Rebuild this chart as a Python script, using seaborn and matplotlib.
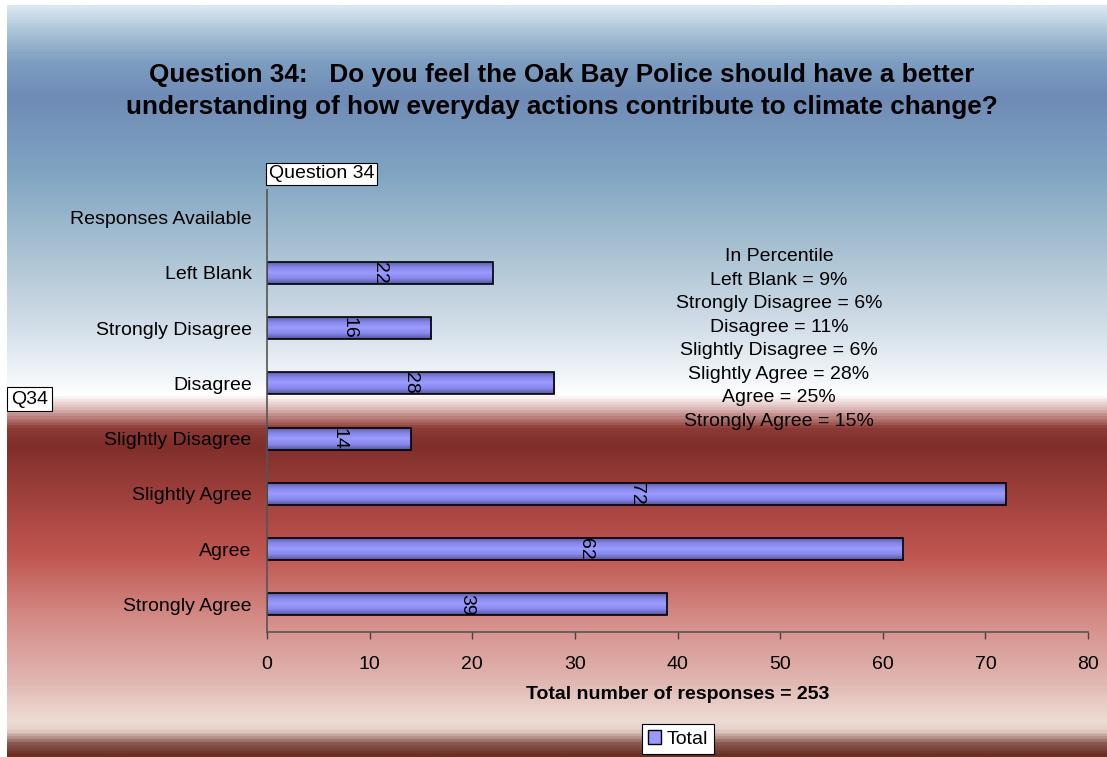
import numpy as np
import pandas as pd
import matplotlib
matplotlib.use("Agg")
import matplotlib.pyplot as plt
import seaborn as sns
from matplotlib.colors import LinearSegmentedColormap
from matplotlib.patches import Patch

# ---------------- data ----------------
categories = ["Responses Available", "Left Blank", "Strongly Disagree", "Disagree",
              "Slightly Disagree", "Slightly Agree", "Agree", "Strongly Agree"]
response_categories = categories[1:]
counts = [22, 16, 28, 14, 72, 62, 39]
percent_lines = ["In Percentile",
                 "Left Blank = 9%",
                 "Strongly Disagree = 6%",
                 "Disagree = 11%",
                 "Slightly Disagree = 6%",
                 "Slightly Agree = 28%",
                 "Agree = 25%",
                 "Strongly Agree = 15%"]
x_ticks = [0, 10, 20, 30, 40, 50, 60, 70, 80]
total_responses = 253
title = ("Question 34:   Do you feel the Oak Bay Police should have a better\n"
         "understanding of how everyday actions contribute to climate change?")

# ---------------- style ----------------
sns.set_theme(style="white")
plt.rcParams["font.family"] = ["Liberation Sans", "DejaVu Sans"]
plt.rcParams["text.color"] = "black"
plt.rcParams["xtick.color"] = "black"
plt.rcParams["ytick.color"] = "black"
plt.rcParams["axes.labelcolor"] = "black"

FS = 14
W, H = 1107, 757
fig = plt.figure(figsize=(W / 100, H / 100), dpi=100)
fig.patch.set_facecolor("white")

# background gradient
bg = fig.add_axes([7 / W, 0, 1 - 7 / W, 1 - 5 / H], zorder=-10)
stops_px = [(5, "#dae7f1"), (30, "#a9c3d8"), (60, "#7d9ec0"), (95, "#6f8bb6"),
            (170, "#7fa4c1"), (250, "#a9c2d3"), (320, "#cfdbe6"), (380, "#f3f7fa"),
            (395, "#ffffff"), (410, "#d9b2b0"), (428, "#8d3b36"), (445, "#7f2e2a"),
            (520, "#ad4945"), (555, "#bf554f"), (620, "#d48c87"), (680, "#e0b4af"),
            (722, "#eddcd4"), (732, "#e6d2ca"), (745, "#8a5a50"), (757, "#6a3025")]
span = 757 - 5
cmap = LinearSegmentedColormap.from_list(
    "bg", [((y - 5) / span, c) for y, c in stops_px])
grad = np.linspace(0, 1, 800).reshape(-1, 1)
bg.imshow(grad, aspect="auto", cmap=cmap, extent=[0, 1, 1, 0], interpolation="bilinear")
bg.set_xlim(0, 1)
bg.set_ylim(1, 0)
bg.axis("off")

# main axes
ax = fig.add_axes([267 / W, 1 - 632 / H, (1088 - 267) / W, (632 - 190) / H])
ax.patch.set_alpha(0)

df = pd.DataFrame({"Response": response_categories, "Total": counts})
sns.barplot(data=df, y="Response", x="Total", order=categories, orient="h",
            color="#9999ff", edgecolor="black", linewidth=1.2, width=0.4,
            saturation=1, ax=ax)

# gradient shading on bars + rotated value labels
bar_cmap = LinearSegmentedColormap.from_list(
    "bar", [(0, "#55559a"), (0.25, "#8585e6"), (0.5, "#9c9cff"), (0.75, "#8888ee"), (1, "#55559a")])
bgrad = np.linspace(0, 1, 64).reshape(-1, 1)
for p in list(ax.patches):
    w = p.get_width()
    if not np.isfinite(w) or w <= 0:
        continue
    x0, y0, h = p.get_x(), p.get_y(), p.get_height()
    im = ax.imshow(bgrad, aspect="auto", cmap=bar_cmap,
                   extent=[x0, x0 + w, y0 + h, y0], zorder=p.get_zorder() - 0.1,
                   interpolation="bilinear")
    im.set_clip_path(p)
    p.set_facecolor("none")
    p.set_zorder(p.get_zorder() + 0.2)
    ax.text(x0 + w / 2, y0 + h / 2, f"{int(round(w))}", rotation=-90,
            ha="center", va="center", fontsize=FS, color="black", zorder=5)

ax.set_xlim(0, 80)
ax.set_ylim(len(categories) - 0.5, -0.5)
ax.set_xticks(x_ticks)
ax.set_ylabel("")
ax.set_xlabel(f"Total number of responses = {total_responses}",
              fontsize=FS, fontweight="bold", labelpad=9)
ax.tick_params(axis="x", direction="out", length=5, width=1, color="#444444",
               labelsize=FS, pad=12.5, bottom=True)
ax.tick_params(axis="y", length=0, labelsize=FS, pad=11)
for s in ["top", "right"]:
    ax.spines[s].set_visible(False)
for s in ["left", "bottom"]:
    ax.spines[s].set_color("#555555")
    ax.spines[s].set_linewidth(1.2)
ax.grid(False)

# title
fig.text(562 / W, 1 - 91 / H, title, ha="center", va="center", fontsize=18.8,
         fontweight="bold", linespacing=1.47)

# boxes
fig.text(269 / W, 1 - 174 / H, "Question 34", ha="left", va="center", fontsize=FS,
         bbox=dict(facecolor="white", edgecolor="black", boxstyle="square,pad=0.14", linewidth=0.8))
fig.text(11 / W, 1 - 399 / H, "Q34", ha="left", va="center", fontsize=FS,
         bbox=dict(facecolor="white", edgecolor="black", boxstyle="square,pad=0.2", linewidth=0.8))

# percentile text
fig.text(779 / W, 1 - 339 / H, "\n".join(percent_lines), ha="center", va="center",
         fontsize=FS, linespacing=1.5)

# legend
handle = Patch(facecolor="#9999ff", edgecolor="black", linewidth=1)
leg = fig.legend([handle], ["Total"], loc="center",
                 bbox_to_anchor=(678 / W, 1 - 739 / H), fontsize=FS, frameon=True,
                 fancybox=False, edgecolor="black", framealpha=1,
                 handlelength=0.7, handleheight=0.7, handletextpad=0.3,
                 borderpad=0.3, borderaxespad=0)
leg.get_frame().set_linewidth(0.8)

fig.savefig("out.png", dpi=100)
